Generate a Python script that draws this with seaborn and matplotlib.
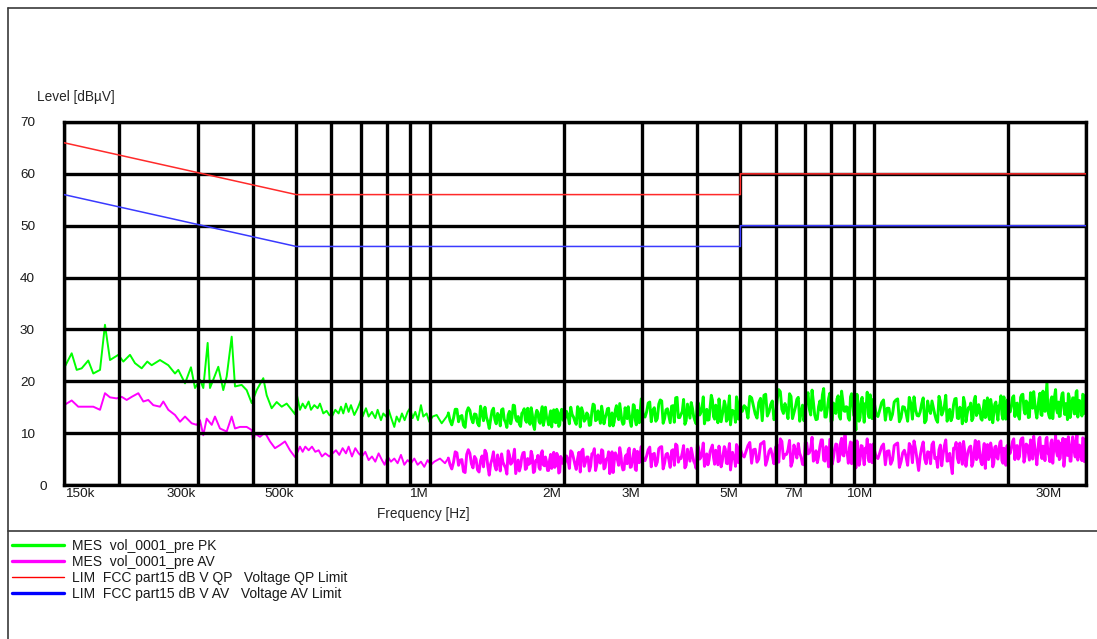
import numpy as np
import pandas as pd
import matplotlib
matplotlib.use("Agg")
import matplotlib.pyplot as plt
import seaborn as sns
from matplotlib.lines import Line2D
from matplotlib.ticker import FixedLocator, FixedFormatter, NullLocator
from matplotlib.transforms import ScaledTranslation

# ---------------- data ----------------
# low-frequency part of the sweep (kHz)
pk_lf_khz = [150, 156.1, 160.2, 164.4, 170.1, 174.6, 180.8, 185.5, 190.4, 198.8,
             204.0, 211.2, 216.7, 224.4, 231.0, 236.3, 246.7, 257.6, 266.7, 271.3,
             280.9, 289.7, 295.8, 303.6, 308.8, 315.9, 319.7, 325.2, 333.8, 342.5,
             348.6, 357.8, 364.0, 376.8, 386.7, 396.9, 407.3, 421.5, 429.0, 440.2,
             451.8, 463.7, 475.8, 488.3,
             497.5, 501.5, 503.6, 509.8, 516.9, 524.0, 533.2, 539.7, 549.1, 558.6,
             565.4, 575.3, 585.3, 593.5, 601.7, 612.2, 622.9, 630.5, 638.1, 647.0,
             656.0, 664.0, 675.6, 687.4, 699.3, 705.4, 717.7, 727.7, 740.4, 753.3,
             762.5, 775.7, 785.2, 796.1, 807.2, 818.4, 831.3, 841.4, 853.1, 865.0,
             877.0, 890.7, 901.6, 914.1, 926.9, 939.8, 954.5, 966.1, 982.9, 996.6,
             1014.0, 1035.6, 1062.8, 1090.7, 1100.0]
pk_lf_db = [22.5, 25.4, 22.2, 22.5, 24.0, 21.5, 22.2, 30.9, 24.1, 25.1,
            23.8, 25.1, 23.5, 22.5, 23.8, 23.1, 24.1, 23.1, 21.5, 22.2,
            19.6, 22.7, 18.7, 20.3, 18.7, 27.4, 18.7, 20.3, 22.8, 18.3,
            20.9, 28.6, 19.0, 19.3, 18.3, 15.8, 18.3, 20.6, 17.3, 14.8,
            16.0, 15.1, 15.7, 14.5,
            13.6, 17.4, 16.7, 14.5, 15.7, 14.8, 16.1, 14.5, 15.4, 14.8,
            15.7, 13.8, 14.3, 13.5, 13.2, 14.5, 13.8, 15.1, 13.8, 15.7,
            14.1, 15.4, 13.5, 14.8, 16.4, 13.2, 14.8, 13.2, 14.1, 12.9,
            14.5, 12.5, 13.8, 13.2, 14.5, 12.9, 11.2, 13.2, 12.2, 13.8,
            12.5, 14.1, 14.8, 12.9, 14.1, 12.5, 15.4, 13.2, 13.8, 12.2,
            13.2, 13.5, 11.9, 13.2, 13.9]

av_lf_khz = [150, 156.1, 161.5, 168.7, 174.6, 180.8, 185.5, 190.4, 197.1, 202.3,
             207.6, 213.1, 220.5, 226.3, 232.2, 238.3, 246.7, 251.0, 257.6, 266.7,
             273.7, 280.9, 290.8, 298.4, 303.6, 308.8, 314.3, 322.6, 328.1, 336.7,
             348.6, 357.8, 364.0, 373.5, 386.7, 396.9, 400.2, 403.7, 414.3, 425.2,
             436.4, 447.8, 459.6, 471.7, 484.0, 496.7,
             503.6, 509.8, 516.9, 524.0, 533.2, 542.5, 551.9, 561.6, 571.3, 581.3,
             593.5, 603.8, 614.3, 625.1, 635.9, 647.0, 656.0, 667.5, 679.1, 690.9,
             703.0, 715.2, 727.7, 740.4, 753.3, 766.4, 779.8, 790.6, 803.0, 817.0,
             831.3, 845.7, 860.5, 875.5, 890.7, 906.3, 922.1, 938.1, 954.5, 971.1,
             988.1, 1005.3, 1022.8, 1053.5, 1081.1, 1100.0]
av_lf_db = [15.4, 16.3, 15.1, 15.1, 15.1, 14.5, 17.7, 16.9, 16.7, 17.0,
            16.4, 17.0, 17.7, 16.1, 16.4, 15.4, 15.1, 16.1, 14.5, 13.5,
            12.2, 13.2, 11.9, 11.6, 12.5, 9.6, 12.8, 11.6, 13.2, 10.9,
            10.3, 13.2, 10.9, 11.2, 11.2, 10.6, 8.0, 9.9, 9.3, 10.1,
            8.4, 7.1, 7.7, 8.4, 6.7, 5.4,
            6.4, 7.4, 6.4, 7.4, 6.7, 7.4, 6.4, 6.7, 5.5, 6.1,
            5.5, 6.1, 6.7, 5.8, 7.1, 6.1, 7.4, 5.5, 7.1, 6.1,
            5.5, 6.4, 4.8, 5.5, 4.5, 6.1, 4.8, 3.9, 5.5, 4.5,
            5.1, 4.2, 5.8, 3.9, 4.8, 4.2, 5.1, 3.9, 4.5, 3.5,
            4.8, 3.9, 4.5, 5.1, 4.2, 5.2]

# high-frequency part of the sweep (MHz), first pass, shared by PK and AV
hf_mhz = [1.10, 1.12, 1.14, 1.16, 1.18, 1.20, 1.22, 1.24, 1.26, 1.28,
          1.30, 1.32, 1.34, 1.36, 1.38, 1.40, 1.42, 1.44, 1.46, 1.48,
          1.50, 1.52, 1.54, 1.56, 1.58, 1.60, 1.62, 1.64, 1.66, 1.68,
          1.70, 1.72, 1.74, 1.76, 1.78, 1.80, 1.82, 1.84, 1.86, 1.88,
          1.90, 1.92, 1.94, 1.96, 1.98, 2.00,
          2.03, 2.06, 2.09, 2.12, 2.15, 2.18, 2.21, 2.24, 2.27, 2.30,
          2.33, 2.36, 2.39, 2.42, 2.45, 2.48, 2.51, 2.54, 2.57, 2.60,
          2.63, 2.66, 2.69, 2.72, 2.75, 2.78, 2.81, 2.84, 2.87, 2.90,
          2.93, 2.96, 2.99,
          3.05, 3.10, 3.15, 3.20, 3.25, 3.30, 3.35, 3.40, 3.45, 3.50,
          3.55, 3.60, 3.65, 3.70, 3.75, 3.80, 3.85, 3.90, 3.95, 4.00,
          4.05, 4.10, 4.15, 4.20, 4.25, 4.30, 4.35, 4.40, 4.45, 4.50,
          4.55, 4.60, 4.65, 4.70, 4.75, 4.80, 4.85, 4.90, 4.95, 5.00,
          5.1, 5.2, 5.3, 5.4, 5.5, 5.6, 5.7, 5.8, 5.9, 6.0,
          6.1, 6.2, 6.3, 6.4, 6.5, 6.6, 6.7, 6.8, 6.9, 7.0,
          7.1, 7.2, 7.3, 7.4, 7.5, 7.6, 7.7, 7.8, 7.9, 8.0,
          8.1, 8.2, 8.3, 8.4, 8.5, 8.6, 8.7, 8.8, 8.9, 9.0,
          9.1, 9.2, 9.3, 9.4, 9.5, 9.6, 9.7, 9.8, 9.9, 10.0,
          10.2, 10.4, 10.6, 10.8, 11.0, 11.2, 11.4, 11.6, 11.8, 12.0,
          12.2, 12.4, 12.6, 12.8, 13.0, 13.2, 13.4, 13.6, 13.8, 14.0,
          14.2, 14.4, 14.6, 14.8, 15.0, 15.2, 15.4, 15.6, 15.8, 16.0,
          16.2, 16.4, 16.6, 16.8, 17.0, 17.2, 17.4, 17.6, 17.8, 18.0,
          18.2, 18.4, 18.6, 18.8, 19.0, 19.2, 19.4, 19.6, 19.8, 20.0,
          20.25, 20.50, 20.75, 21.00, 21.25, 21.50, 21.75, 22.00, 22.25, 22.50,
          22.75, 23.00, 23.25, 23.50, 23.75, 24.00, 24.25, 24.50, 24.75, 25.00,
          25.25, 25.50, 25.75, 26.00, 26.25, 26.50, 26.75, 27.00, 27.25, 27.50,
          27.75, 28.00, 28.25, 28.50, 28.75, 29.00, 29.25, 29.50, 29.75, 30.00]

pk_hf_db = [13.9, 11.6, 14.6, 12.2, 13.4, 11.1, 14.9, 12.8, 13.7, 11.9,
            15.2, 12.4, 13.1, 10.9, 14.3, 12.6, 13.8, 11.4, 14.7, 12.1,
            13.5, 11.8, 15.4, 12.9, 13.2, 11.3, 14.1, 12.5, 14.8, 11.7,
            13.6, 10.7, 14.4, 12.3, 13.9, 11.5, 15.0, 12.7, 13.3, 11.2,
            14.5, 12.0, 14.0, 11.6, 14.6, 12.4,
            14.2, 11.8, 13.6, 12.3, 15.1, 11.2, 14.0, 12.7, 13.5, 11.6,
            15.6, 12.4, 14.3, 11.9, 13.8, 12.9, 14.7, 11.4, 13.9, 12.2,
            15.3, 12.6, 14.1, 11.7, 14.9, 12.8, 13.7, 11.3, 15.5, 12.5,
            14.4, 12.0, 16.6,
            13.1, 15.8, 12.2, 14.9, 12.8, 16.4, 11.9, 14.5, 13.3, 15.2,
            12.1, 16.9, 13.0, 14.2, 11.7, 15.6, 12.9, 14.8, 12.4, 16.1,
            13.5, 15.0, 11.8, 14.6, 12.6, 17.3, 13.2, 15.4, 12.0, 14.7,
            13.4, 16.2, 12.3, 15.1, 11.6, 14.4, 13.6, 17.0, 12.7, 15.5,
            15.3, 12.9, 16.8, 13.7, 15.9, 12.4, 17.5, 14.1, 16.2, 13.2,
            18.4, 14.6, 15.7, 12.8, 17.1, 13.9, 16.5, 12.3, 15.4, 14.0,
            17.8, 13.5, 16.0, 12.6, 15.1, 14.4, 18.6, 13.1, 16.7, 12.2,
            15.8, 13.8, 17.2, 12.7, 16.3, 14.2, 15.0, 12.5, 17.6, 13.4,
            10.6, 15.6, 13.0, 16.9, 12.1, 15.2, 13.6, 17.4, 12.8, 16.1,
            13.2, 15.9, 12.5, 14.8, 13.6, 16.4, 12.2, 15.1, 13.9, 16.9,
            12.7, 14.5, 13.3, 15.7, 12.0, 16.2, 13.8, 14.9, 12.6, 17.1,
            13.5, 15.3, 12.3, 14.6, 13.1, 16.6, 12.9, 15.0, 11.8, 15.8,
            13.7, 14.7, 12.4, 16.3, 13.4, 15.5, 12.8, 14.4, 13.0, 16.8,
            12.6, 15.2, 13.9, 16.0, 12.5, 15.6, 13.6, 17.0, 12.7, 16.5,
            14.1, 16.9, 13.2, 15.8, 12.7, 17.4, 14.5, 16.2, 13.0, 17.8,
            14.8, 15.9, 12.9, 16.6, 13.6, 18.1, 14.2, 19.8, 13.4, 16.4,
            12.8, 17.2, 14.6, 16.0, 13.3, 17.6, 14.9, 15.7, 12.6, 17.0,
            14.0, 16.8, 13.7, 17.9, 13.1, 16.3, 14.4, 17.5, 13.8, 16.7]

av_hf_db = [5.2, 3.1, 6.4, 3.8, 4.9, 2.4, 6.8, 4.1, 5.5, 2.9,
            4.7, 3.5, 6.1, 1.9, 5.0, 3.7, 5.8, 2.7, 4.4, 3.3,
            6.6, 4.0, 5.3, 2.2, 4.8, 3.6, 6.2, 3.0, 5.1, 4.2,
            5.7, 2.6, 4.6, 3.4, 6.0, 3.9, 5.4, 2.8, 4.9, 3.2,
            6.3, 3.8, 5.6, 2.5, 5.0, 4.1,
            5.6, 3.2, 6.3, 4.0, 5.1, 2.5, 6.9, 4.4, 5.4, 3.6,
            6.1, 2.8, 5.8, 4.2, 6.6, 3.4, 5.0, 2.2, 6.4, 4.6,
            5.7, 3.8, 6.0, 2.9, 5.3, 4.1, 7.1, 3.5, 5.9, 3.0,
            6.5, 4.3, 7.4,
            4.7, 6.8, 3.5, 6.1, 4.4, 7.3, 3.1, 5.9, 4.9, 6.6,
            3.8, 7.6, 5.2, 6.2, 3.3, 6.9, 4.6, 5.8, 4.1, 7.9,
            5.0, 6.4, 3.6, 6.0, 4.8, 7.1, 5.3, 6.7, 3.9, 5.7,
            4.5, 7.4, 4.2, 6.5, 2.9, 6.3, 5.1, 7.8, 4.3, 6.9,
            5.4, 7.6, 4.2, 6.9, 5.0, 8.1, 3.8, 6.5, 5.7, 7.3,
            4.4, 8.4, 5.9, 6.8, 3.6, 7.7, 5.2, 6.1, 4.0, 8.2,
            6.0, 7.1, 4.6, 6.6, 5.5, 8.7, 4.8, 7.4, 3.5, 6.4,
            5.3, 7.9, 4.5, 8.0, 5.8, 9.6, 6.2, 7.2, 4.1, 8.3,
            3.3, 6.7, 4.9, 7.5, 3.9, 6.3, 5.1, 7.8, 4.3, 7.0,
            5.1, 7.4, 3.9, 6.6, 4.8, 7.9, 3.4, 6.2, 5.5, 8.0,
            4.3, 6.9, 2.8, 7.2, 5.0, 6.4, 4.1, 8.3, 5.3, 6.8,
            3.7, 7.6, 4.6, 6.1, 2.2, 7.0, 5.2, 8.1, 4.0, 6.5,
            5.4, 7.3, 3.6, 6.7, 4.9, 8.4, 4.4, 6.3, 3.2, 7.8,
            5.6, 6.9, 4.2, 7.5, 5.0, 8.2, 4.7, 7.1, 3.8, 7.7,
            6.1, 8.4, 4.9, 7.6, 5.5, 9.0, 4.4, 7.9, 6.3, 8.7,
            5.0, 7.3, 3.9, 8.9, 6.0, 7.5, 4.7, 9.2, 5.8, 8.1,
            4.2, 7.8, 6.4, 8.5, 5.2, 7.1, 3.6, 8.8, 5.7, 7.4,
            4.6, 9.3, 6.2, 8.0, 4.8, 7.7, 5.4, 9.1, 4.5, 8.3]

# high-frequency part, second (interleaved) pass (MHz)
hf2_mhz = [1.11, 1.13, 1.15, 1.17, 1.19, 1.21, 1.23, 1.25, 1.27, 1.29,
           1.31, 1.33, 1.35, 1.37, 1.39, 1.41, 1.43, 1.45, 1.47, 1.49,
           1.51, 1.53, 1.55, 1.57, 1.59, 1.61, 1.63, 1.65, 1.67, 1.69,
           1.71, 1.73, 1.75, 1.77, 1.79, 1.81, 1.83, 1.85, 1.87, 1.89,
           1.91, 1.93, 1.95, 1.97, 1.99,
           2.015, 2.045, 2.075, 2.105, 2.135, 2.165, 2.195, 2.225, 2.255, 2.285,
           2.315, 2.345, 2.375, 2.405, 2.435, 2.465, 2.495, 2.525, 2.555, 2.585,
           2.615, 2.645, 2.675, 2.705, 2.735, 2.765, 2.795, 2.825, 2.855, 2.885,
           2.915, 2.945, 2.975,
           3.02, 3.075, 3.125, 3.175, 3.225, 3.275, 3.325, 3.375, 3.425, 3.475,
           3.525, 3.575, 3.625, 3.675, 3.725, 3.775, 3.825, 3.875, 3.925, 3.975,
           4.025, 4.075, 4.125, 4.175, 4.225, 4.275, 4.325, 4.375, 4.425, 4.475,
           4.525, 4.575, 4.625, 4.675, 4.725, 4.775, 4.825, 4.875, 4.925, 4.975,
           5.05, 5.15, 5.25, 5.35, 5.45, 5.55, 5.65, 5.75, 5.85, 5.95,
           6.05, 6.15, 6.25, 6.35, 6.45, 6.55, 6.65, 6.75, 6.85, 6.95,
           7.05, 7.15, 7.25, 7.35, 7.45, 7.55, 7.65, 7.75, 7.85, 7.95,
           8.05, 8.15, 8.25, 8.35, 8.45, 8.55, 8.65, 8.75, 8.85, 8.95,
           9.05, 9.15, 9.25, 9.35, 9.45, 9.55, 9.65, 9.75, 9.85, 9.95,
           10.1, 10.3, 10.5, 10.7, 10.9, 11.1, 11.3, 11.5, 11.7, 11.9,
           12.1, 12.3, 12.5, 12.7, 12.9, 13.1, 13.3, 13.5, 13.7, 13.9,
           14.1, 14.3, 14.5, 14.7, 14.9, 15.1, 15.3, 15.5, 15.7, 15.9,
           16.1, 16.3, 16.5, 16.7, 16.9, 17.1, 17.3, 17.5, 17.7, 17.9,
           18.1, 18.3, 18.5, 18.7, 18.9, 19.1, 19.3, 19.5, 19.7, 19.9,
           20.125, 20.375, 20.625, 20.875, 21.125, 21.375, 21.625, 21.875, 22.125, 22.375,
           22.625, 22.875, 23.125, 23.375, 23.625, 23.875, 24.125, 24.375, 24.625, 24.875,
           25.125, 25.375, 25.625, 25.875, 26.125, 26.375, 26.625, 26.875, 27.125, 27.375,
           27.625, 27.875, 28.125, 28.375, 28.625, 28.875, 29.125, 29.375, 29.625, 29.875]

pk_hf2_db = [12.4, 12.9, 14.6, 13.2, 11.5, 14.1, 14.4, 12.0, 13.6, 11.4,
             13.9, 15.0, 12.2, 12.7, 14.8, 11.8, 13.3, 14.5, 12.6, 11.1,
             14.2, 13.0, 15.3, 12.3, 11.7, 13.8, 14.7, 12.1, 12.8, 14.9,
             11.5, 13.4, 14.0, 11.9, 15.1, 12.5, 13.1, 11.6, 14.3, 13.7,
             12.2, 14.6, 11.3, 13.9, 12.7,
             12.8, 13.4, 15.0, 13.1, 11.7, 14.6, 14.9, 12.3, 13.9, 11.5,
             14.1, 15.4, 12.6, 13.0, 15.2, 11.8, 13.6, 14.8, 12.9, 11.4,
             14.5, 13.3, 15.7, 12.4, 11.9, 14.2, 15.1, 12.2, 13.2, 15.3,
             11.6, 13.8, 14.4,
             13.5, 14.1, 16.0, 14.4, 12.3, 15.6, 16.2, 12.8, 14.7, 12.0,
             15.3, 16.8, 13.0, 13.6, 16.5, 12.4, 14.3, 15.9, 13.2, 11.8,
             15.7, 14.0, 17.0, 12.9, 12.5, 15.1, 16.4, 12.7, 13.8, 16.6,
             12.2, 14.5, 15.4, 12.6, 17.2, 13.4, 14.2, 12.1, 16.1, 15.0,
             14.2, 14.9, 17.1, 15.2, 12.9, 16.7, 17.3, 13.3, 15.5, 12.6,
             16.4, 18.0, 13.8, 14.5, 17.6, 12.8, 15.0, 16.9, 14.0, 12.4,
             16.8, 14.6, 18.3, 13.5, 12.7, 16.2, 17.4, 13.1, 14.8, 17.7,
             12.5, 15.3, 16.6, 13.2, 18.1, 14.3, 15.1, 12.9, 17.0, 16.0,
             13.6, 17.5, 12.3, 16.3, 14.4, 15.7, 17.9, 13.0, 14.7, 16.5,
             13.8, 14.5, 16.4, 14.8, 12.6, 16.0, 16.6, 13.0, 15.0, 12.3,
             15.7, 17.0, 13.4, 14.1, 16.8, 12.5, 14.6, 16.2, 13.6, 12.1,
             16.1, 14.2, 17.3, 13.2, 12.4, 15.5, 16.7, 12.8, 14.4, 16.9,
             12.2, 14.9, 15.8, 12.9, 17.1, 13.9, 14.7, 12.5, 16.3, 15.3,
             13.3, 16.5, 12.0, 15.6, 14.0, 15.2, 17.2, 12.7, 14.3, 16.0,
             14.5, 15.2, 17.2, 15.6, 13.3, 16.9, 17.5, 13.7, 15.9, 13.1,
             16.6, 18.0, 14.1, 14.8, 17.7, 13.4, 15.4, 17.1, 14.3, 12.9,
             17.0, 15.0, 18.4, 13.9, 13.2, 16.4, 17.8, 13.6, 15.3, 17.6,
             13.0, 15.7, 16.8, 13.8, 18.2, 14.6, 15.5, 13.3, 17.3, 16.2]

av_hf2_db = [3.9, 4.4, 6.2, 4.8, 2.6, 5.9, 6.1, 3.3, 5.0, 2.5,
             5.6, 6.7, 3.6, 4.1, 6.4, 2.9, 4.6, 6.0, 3.8, 2.1,
             5.8, 4.3, 6.9, 3.5, 2.7, 5.4, 6.3, 3.2, 4.0, 6.5,
             2.4, 4.7, 5.7, 3.0, 6.6, 3.7, 4.5, 2.8, 5.9, 5.1,
             3.4, 6.1, 2.3, 5.5, 4.2,
             4.3, 4.9, 6.6, 5.2, 3.0, 6.3, 6.5, 3.6, 5.4, 2.7,
             6.0, 7.0, 3.9, 4.5, 6.8, 3.1, 5.0, 6.4, 4.1, 2.4,
             6.2, 4.7, 7.2, 3.8, 3.0, 5.8, 6.7, 3.4, 4.6, 6.9,
             2.8, 5.1, 6.1,
             5.0, 5.6, 7.3, 5.9, 3.7, 7.0, 7.4, 4.2, 6.1, 3.4,
             6.8, 7.9, 4.4, 5.1, 7.6, 3.8, 5.7, 7.1, 4.6, 3.2,
             7.2, 5.4, 8.1, 4.3, 3.9, 6.5, 7.7, 4.0, 5.3, 7.5,
             3.5, 6.0, 6.9, 4.1, 8.0, 4.7, 5.5, 3.6, 7.4, 6.3,
             5.8, 6.5, 8.2, 6.8, 4.4, 7.9, 8.4, 4.9, 7.0, 4.1,
             7.7, 8.9, 5.1, 5.9, 8.6, 4.5, 6.6, 8.0, 5.4, 3.9,
             8.1, 6.2, 9.2, 5.0, 4.3, 7.4, 8.7, 4.6, 6.1, 8.8,
             4.0, 6.9, 7.8, 4.7, 9.0, 5.6, 6.4, 4.2, 8.3, 7.2,
             5.2, 8.5, 3.8, 7.6, 5.7, 7.1, 8.9, 4.5, 6.0, 7.9,
             5.5, 6.2, 7.9, 6.5, 4.0, 7.6, 8.1, 4.5, 6.7, 3.8,
             7.4, 8.5, 4.8, 5.6, 8.3, 4.1, 6.3, 7.8, 5.1, 3.4,
             7.7, 5.9, 8.7, 4.7, 3.9, 7.1, 8.2, 4.3, 5.8, 8.4,
             3.6, 6.6, 7.5, 4.4, 8.6, 5.3, 6.1, 3.9, 8.0, 6.9,
             4.9, 8.1, 3.5, 7.3, 5.4, 6.8, 8.5, 4.2, 5.7, 7.5,
             6.5, 7.2, 8.9, 7.5, 5.0, 8.6, 9.1, 5.5, 7.7, 4.8,
             8.4, 9.4, 5.8, 6.6, 9.2, 5.1, 7.3, 8.8, 6.1, 4.5,
             8.7, 6.9, 9.5, 5.6, 4.9, 8.1, 9.0, 5.3, 6.8, 9.3,
             4.6, 7.6, 8.5, 5.4, 9.6, 6.3, 7.1, 4.7, 8.9, 7.9]

# FCC part 15 limit lines (Hz, dBuV)
lim_freq_hz = [150e3, 500e3, 5e6, 5e6, 30e6]
lim_qp_db = [66, 56, 56, 60, 60]
lim_av_db = [56, 46, 46, 50, 50]

# axis ticks / labels
x_tick_freqs = [150e3, 200e3, 300e3, 400e3, 500e3, 600e3, 700e3, 800e3, 900e3,
                1e6, 2e6, 3e6, 4e6, 5e6, 6e6, 7e6, 8e6, 9e6, 10e6, 20e6, 30e6]
x_tick_labels = ['150k', '', '300k', '', '500k', '', '', '', '',
                 '1M', '2M', '3M', '', '5M', '', '7M', '', '', '10M', '', '30M']
y_ticks = [0, 10, 20, 30, 40, 50, 60, 70]
y_tick_labels = ['0', '10', '20', '30', '40', '50', '60', '70']

series_labels = ['MES  vol_0001_pre PK', 'MES  vol_0001_pre AV',
                 'LIM  FCC part15 dB V QP   Voltage QP Limit',
                 'LIM  FCC part15 dB V AV   Voltage AV Limit']

# ---------------- build tables ----------------
pk_lf_df = pd.DataFrame({'freq': np.array(pk_lf_khz) * 1e3, 'level': pk_lf_db})
av_lf_df = pd.DataFrame({'freq': np.array(av_lf_khz) * 1e3, 'level': av_lf_db})
pk_hf_df = pd.DataFrame({
    'freq': np.concatenate([np.array(hf_mhz) * 1e6, np.array(hf2_mhz) * 1e6]),
    'level': pk_hf_db + pk_hf2_db})
av_hf_df = pd.DataFrame({
    'freq': np.concatenate([np.array(hf_mhz) * 1e6, np.array(hf2_mhz) * 1e6]),
    'level': av_hf_db + av_hf2_db})
lim_df = pd.DataFrame({'freq': lim_freq_hz, 'qp': lim_qp_db, 'av': lim_av_db})

# ---------------- style ----------------
sns.set_theme(style="white")
plt.rcParams['font.family'] = ['Liberation Sans', 'DejaVu Sans']
plt.rcParams['text.color'] = '#1a1a1a'

W, H = 1097, 639
fig = plt.figure(figsize=(W / 100, H / 100), dpi=100)
fig.patch.set_facecolor('white')
ax = fig.add_axes([64 / W, 1 - 485 / H, 1022 / W, 363 / H])
ax.set_xscale('log')

GREEN, MAGENTA, RED, BLUE = '#00ff00', '#ff00ff', '#ff2a2a', '#3a3aff'

# measurement traces: sparse low-frequency part, dense high-frequency band
sns.lineplot(data=pk_lf_df, x='freq', y='level', color=GREEN, linewidth=1.4,
             estimator=None, sort=True, ax=ax, zorder=1.5)
sns.lineplot(data=pk_hf_df, x='freq', y='level', color=GREEN, linewidth=2.1,
             estimator=None, sort=True, ax=ax, zorder=1.5)
sns.lineplot(data=av_lf_df, x='freq', y='level', color=MAGENTA, linewidth=1.4,
             estimator=None, sort=True, ax=ax, zorder=1.6)
sns.lineplot(data=av_hf_df, x='freq', y='level', color=MAGENTA, linewidth=2.1,
             estimator=None, sort=True, ax=ax, zorder=1.6)
# limit lines
sns.lineplot(data=lim_df, x='freq', y='qp', color=RED, linewidth=1.1,
             estimator=None, sort=False, ax=ax, zorder=3)
sns.lineplot(data=lim_df, x='freq', y='av', color=BLUE, linewidth=1.1,
             estimator=None, sort=False, ax=ax, zorder=3)

ax.set_xlim(150e3, 30e6)
ax.set_ylim(0, 70)
ax.set_facecolor('white')

ax.xaxis.set_major_locator(FixedLocator(x_tick_freqs))
ax.xaxis.set_major_formatter(FixedFormatter(x_tick_labels))
ax.xaxis.set_minor_locator(NullLocator())
ax.set_yticks(y_ticks)
ax.set_yticklabels(y_tick_labels)
ax.yaxis.set_minor_locator(NullLocator())

ax.grid(True, which='major', color='black', linewidth=2.4)
ax.set_axisbelow(False)
for s in ax.spines.values():
    s.set_visible(True)
    s.set_linewidth(2.4)
    s.set_color('black')

ax.tick_params(axis='x', length=0, pad=2.5, labelsize=9.7, labelcolor='#1a1a1a')
ax.tick_params(axis='y', length=0, pad=31.7, labelsize=9.7, labelcolor='#1a1a1a')

for lab in ax.get_yticklabels():
    if lab.get_text() == '0':
        lab.set_ha('right')
        lab.set_transform(lab.get_transform() + ScaledTranslation(0.27, 0, fig.dpi_scale_trans))
    else:
        lab.set_ha('left')

for lab in ax.get_xticklabels():
    t = lab.get_text()
    if t == '150k':
        lab.set_ha('left')
        lab.set_transform(lab.get_transform() + ScaledTranslation(0.015, 0, fig.dpi_scale_trans))
    elif t == '30M':
        lab.set_ha('right')
        lab.set_transform(lab.get_transform() + ScaledTranslation(-0.24, 0, fig.dpi_scale_trans))
    else:
        lab.set_ha('right')
        lab.set_transform(lab.get_transform() + ScaledTranslation(-0.02, 0, fig.dpi_scale_trans))

ax.set_xlabel('Frequency [Hz]', fontsize=9.8)
ax.xaxis.set_label_coords((423.5 - 64) / 1022, (485 - 507) / 363)
ax.set_ylabel('Level [dBµV]', rotation=0, fontsize=9.8, ha='left', va='center')
ax.yaxis.set_label_coords((37 - 64) / 1022, (485 - 97) / 363)

# page frame
frame_kw = dict(color='#3a3a3a', linewidth=1.2, transform=fig.transFigure)
fig.add_artist(Line2D([8 / W, 8 / W], [1 - 8 / H, 0], **frame_kw))
fig.add_artist(Line2D([8 / W, 1], [1 - 8 / H, 1 - 8 / H], **frame_kw))
fig.add_artist(Line2D([8 / W, 1], [1 - 531 / H, 1 - 531 / H], **frame_kw))

# legend
handles = [Line2D([], [], color=GREEN, linewidth=2.4),
           Line2D([], [], color=MAGENTA, linewidth=2.4),
           Line2D([], [], color='#ff0000', linewidth=1.0),
           Line2D([], [], color='#0000ff', linewidth=2.4)]
fig.legend(handles, series_labels, loc='upper left',
           bbox_to_anchor=(12 / W, 1 - 539 / H), frameon=False, fontsize=10,
           handlelength=3.75, handletextpad=0.58, labelspacing=0.15,
           borderaxespad=0, borderpad=0)

fig.savefig('out.png', dpi=100)
